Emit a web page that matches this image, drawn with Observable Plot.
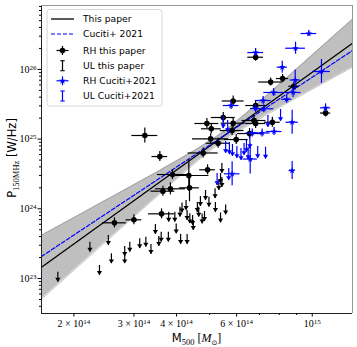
<!DOCTYPE html>
<html><head><meta charset="utf-8">
<script src="https://cdn.jsdelivr.net/npm/d3@7"></script>
<script src="https://cdn.jsdelivr.net/npm/@observablehq/plot@0.6"></script>
<style>
body{margin:0;background:#fff;}
#chart{position:relative;width:357px;height:347px;}
#chart svg [aria-label="x-axis tick label"] text,
#chart svg [aria-label="y-axis tick label"] text{font-family:"Liberation Serif",serif;font-size:10px;fill:#000;}
</style></head><body><div id="chart"></div>
<script>
// ---- data (log10 values) ----
// fitted relations (end points at the plot edges)
const fitLogM = [14.206, 15.118];
const fitThisLogP = [23.162, 26.376];
const fitCucitiLogP = [23.316, 26.271];
// confidence band of "This paper"
const bandLogM = [14.206, 14.3205, 14.438, 14.555, 14.672, 14.731, 14.790, 14.907, 15.024, 15.118];
const bandLoLogP = [22.703, 23.204, 23.716, 24.225, 24.720, 24.943, 25.131, 25.463, 25.781, 26.032];
const bandHiLogP = [23.621, 23.927, 24.241, 24.558, 24.890, 25.080, 25.305, 25.802, 26.311, 26.720];
// RH this paper
const rhThisLogM = [14.509,14.553,14.420,14.477,14.558,14.562,14.584,14.590,14.638,14.640,14.680,14.693,14.702,14.724,14.765,14.777,14.816,14.691,14.704,14.739,14.768,14.829,14.834,14.883,14.768,14.834,14.834,14.878,14.913,14.946,15.039];
const rhThisLogP = [25.052,24.750,23.799,23.842,23.928,24.253,24.287,24.492,24.478,24.301,24.801,24.560,25.004,24.941,25.123,24.994,25.080,25.224,25.148,25.310,25.228,25.267,25.224,25.242,25.547,25.482,26.175,25.819,25.869,25.759,25.374];
const rhThisErrM = [0.038,0.023,0.035,0.023,0.038,0.035,0.044,0.044,0.059,0.029,0.044,0.023,0.053,0.035,0.035,0.035,0.035,0.035,0.029,0.035,0.035,0.035,0.029,0.023,0.032,0.029,0.023,0.035,0.018,0.015,0.015];
const rhThisErrP = [0.108,0.072,0.072,0.072,0.072,0.072,0.086,0.072,0.23,0.20,0.072,0.072,0.072,0.072,0.072,0.072,0.072,0.072,0.072,0.072,0.072,0.072,0.072,0.072,0.072,0.072,0.057,0.057,0.057,0.057,0.057];
// UL this paper
const ulThisLogM = [14.254,14.348,14.376,14.402,14.411,14.450,14.450,14.465,14.494,14.512,14.527,14.540,14.550,14.557,14.578,14.579,14.597,14.601,14.614,14.633,14.612,14.618,14.630,14.633,14.641,14.649,14.651,14.663,14.667,14.672,14.677,14.687,14.684,14.697,14.715,14.716,14.731,14.746,14.726,14.735,14.735,14.731];
const ulThisLogP = [23.090,23.521,23.187,23.617,23.354,23.459,23.354,23.521,23.570,23.593,23.488,23.775,23.603,23.664,23.664,23.951,23.951,23.782,23.631,23.631,24.023,24.083,24.119,23.976,23.928,23.904,23.832,24.090,24.023,24.176,23.925,24.263,23.961,24.166,24.287,24.090,23.940,24.055,24.406,24.449,24.650,24.506];
// RH Cuciti+2021
const rhCucLogM = [14.990,14.951,14.834,14.912,14.950,15.027,14.887,14.944,14.925,14.856,14.858,14.834,14.762,15.039,14.941,14.888,14.853,14.824,14.941,14.818,14.765];
const rhCucLogP = [26.515,26.304,26.242,26.032,25.848,25.970,25.669,25.669,25.572,25.554,25.435,25.439,25.482,25.449,25.242,25.109,25.088,25.088,24.549,24.714,24.502];
const rhCucErrM = [0.023,0.029,0.023,0.015,0.015,0.026,0.029,0.023,0.015,0.023,0.029,0.015,0.023,0.015,0.018,0.023,0.023,0.018,0.009,0.021,0.023];
const rhCucErrP = [0.043,0.086,0.057,0.086,0.143,0.172,0.057,0.072,0.057,0.057,0.057,0.057,0.057,0.057,0.172,0.057,0.057,0.057,0.129,0.215,0.172];
// UL Cuciti+2021
const ulCucLogM = [14.739,14.752,14.746,14.757,14.766,14.779,14.791,14.800,14.807,14.812,14.817,14.840,14.863,14.870,14.907,14.721,14.755];
const ulCucLogP = [25.324,25.267,24.966,24.951,24.923,24.894,24.865,24.937,24.980,24.879,25.037,24.894,24.884,25.339,25.425,24.506,24.578];
// ticks
const xTickValues = [2e14, 3e14, 4e14, 6e14, 1e15];
const xTickLabels = ["2 × 10^14", "3 × 10^14", "4 × 10^14", "6 × 10^14", "10^15"];
const xMinorTicks = [5e14, 7e14, 8e14, 9e14];
const yTickValues = [1e23, 1e24, 1e25, 1e26];
const yTickLabels = ["10^23", "10^24", "10^25", "10^26"];
const yMinorTicks = [4e22,5e22,6e22,7e22,8e22,9e22,2e23,3e23,4e23,5e23,6e23,7e23,8e23,9e23,2e24,3e24,4e24,5e24,6e24,7e24,8e24,9e24,2e25,3e25,4e25,5e25,6e25,7e25,8e25,9e25,2e26,3e26,4e26,5e26,6e26,7e26,8e26];
const xDomainLog = [14.206, 15.118];
const yDomainLog = [22.498, 26.917];
const legendLabels = ["This paper", "Cuciti+ 2021", "RH this paper", "UL this paper", "RH Cuciti+2021", "UL Cuciti+2021"];

// ---- build tables ----
const p10 = v => Math.pow(10, v);
const rhRows = (lm, lp, em, ep) => lm.map((m, i) => ({
  m: p10(m), p: p10(lp[i]), m1: p10(m - em[i]), m2: p10(m + em[i]), p1: p10(lp[i] - ep[i]), p2: p10(lp[i] + ep[i])
}));
const ulRows = (lm, lp, len) => lm.map((m, i) => ({m: p10(m), p: p10(lp[i]), pEnd: p10(lp[i] - len)}));
const rhThis = rhRows(rhThisLogM, rhThisLogP, rhThisErrM, rhThisErrP);
const rhCuc = rhRows(rhCucLogM, rhCucLogP, rhCucErrM, rhCucErrP);
const ulThis = ulRows(ulThisLogM, ulThisLogP, 0.14);
const ulCuc = ulRows(ulCucLogM, ulCucLogP, 0.17);
const band = bandLogM.map((m, i) => ({m: p10(m), lo: p10(bandLoLogP[i]), hi: p10(bandHiLogP[i])}));
const fitThis = fitLogM.map((m, i) => ({m: p10(m), p: p10(fitThisLogP[i])}));
const fitCuc = fitLogM.map((m, i) => ({m: p10(m), p: p10(fitCucitiLogP[i])}));
const xMap = new Map(xTickValues.map((v, i) => [v, xTickLabels[i]]));
const yMap = new Map(yTickValues.map((v, i) => [v, yTickLabels[i]]));
const X0 = p10(xDomainLog[0]), X1 = p10(xDomainLog[1]);
const Y0 = p10(yDomainLog[0]), Y1 = p10(yDomainLog[1]);

const downTri = {draw(ctx) { ctx.moveTo(-2.6, -4.2); ctx.lineTo(2.6, -4.2); ctx.lineTo(0, 0); ctx.closePath(); }};

const plot = Plot.plot({
  width: 357, height: 347,
  marginLeft: 41, marginRight: 5, marginTop: 5, marginBottom: 34,
  style: {background: "white", fontFamily: "DejaVu Sans", overflow: "visible"},
  x: {type: "log", domain: [X0, X1]},
  y: {type: "log", domain: [Y0, Y1]},
  marks: [
    Plot.areaY(band, {x: "m", y1: "lo", y2: "hi", fill: "#808080", fillOpacity: 0.5, curve: "catmull-rom"}),
    Plot.line(band, {x: "m", y: "lo", stroke: "#808080", strokeOpacity: 0.6, strokeWidth: 0.8, curve: "catmull-rom"}),
    Plot.line(band, {x: "m", y: "hi", stroke: "#808080", strokeOpacity: 0.6, strokeWidth: 0.8, curve: "catmull-rom"}),
    Plot.line(fitThis, {x: "m", y: "p", stroke: "black", strokeWidth: 1.3}),
    Plot.line(fitCuc, {x: "m", y: "p", stroke: "blue", strokeWidth: 1.2, strokeDasharray: "4,2"}),
    // RH this paper
    Plot.ruleY(rhThis, {y: "p", x1: "m1", x2: "m2", stroke: "black", strokeWidth: 1.2}),
    Plot.ruleX(rhThis, {x: "m", y1: "p1", y2: "p2", stroke: "black", strokeWidth: 1.2}),
    Plot.dot(rhThis, {x: "m", y: "p", r: 2.8, fill: "black", stroke: "none"}),
    // UL this paper
    Plot.ruleX(ulThis, {x: "m", y1: "p", y2: "pEnd", stroke: "black", strokeWidth: 1.2}),
    Plot.dot(ulThis, {x: "m", y: "pEnd", symbol: downTri, fill: "black", stroke: "none"}),
    // RH Cuciti
    Plot.ruleY(rhCuc, {y: "p", x1: "m1", x2: "m2", stroke: "blue", strokeWidth: 1.2}),
    Plot.ruleX(rhCuc, {x: "m", y1: "p1", y2: "p2", stroke: "blue", strokeWidth: 1.2}),
    Plot.dot(rhCuc, {x: "m", y: "p", symbol: "star", r: 2.1, fill: "blue", stroke: "none"}),
    // UL Cuciti
    Plot.ruleX(ulCuc, {x: "m", y1: "p", y2: "pEnd", stroke: "blue", strokeWidth: 1.2}),
    Plot.dot(ulCuc, {x: "m", y: "pEnd", symbol: downTri, fill: "blue", stroke: "none"}),
    // frame
    Plot.ruleX([X0], {stroke: "#222", strokeWidth: 1}),
    Plot.ruleY([Y0], {stroke: "#222", strokeWidth: 1}),
    Plot.ruleX([X1], {stroke: "#999", strokeWidth: 1}),
    Plot.ruleY([Y1], {stroke: "#999", strokeWidth: 1}),
    // axes
    Plot.axisX({ticks: xTickValues, tickFormat: d => xMap.get(d), tickSize: 3.5, tickPadding: 2.5, label: null}),
    Plot.axisX({ticks: xMinorTicks, tickFormat: () => "", tickSize: 2, label: null}),
    Plot.axisY({ticks: yTickValues, tickFormat: d => yMap.get(d), tickSize: 3.5, tickPadding: 1.5, label: null}),
    Plot.axisY({ticks: yMinorTicks, tickFormat: () => "", tickSize: 2, label: null})
  ]
});
document.getElementById("chart").appendChild(plot);

// superscripts on tick labels
const svg = d3.select(plot);
svg.selectAll('[aria-label="x-axis tick label"] text, [aria-label="y-axis tick label"] text').each(function() {
  const s = this.textContent, i = s.indexOf("^");
  if (i < 0) return;
  const t = d3.select(this);
  t.text(null);
  t.append("tspan").text(s.slice(0, i));
  t.append("tspan").attr("dy", "-0.42em").attr("font-size", "7px").text(s.slice(i + 1));
});

// axis titles
const yt = svg.append("text").attr("transform", "translate(16,158) rotate(-90)").attr("text-anchor", "middle").attr("fill", "#000");
yt.append("tspan").attr("font-family", "DejaVu Sans").attr("font-size", 11.5).text("P");
yt.append("tspan").attr("font-family", "Liberation Serif").attr("font-size", 8.5).attr("dy", 2.5).text("150MHz");
yt.append("tspan").attr("font-family", "DejaVu Sans").attr("font-size", 11.5).attr("dy", -2.5).text(" [W/Hz]");

const xt = svg.append("text").attr("x", 196.5).attr("y", 342).attr("text-anchor", "middle").attr("fill", "#000");
xt.append("tspan").attr("font-family", "DejaVu Sans").attr("font-size", 11.5).text("M");
xt.append("tspan").attr("font-family", "Liberation Serif").attr("font-size", 8.5).attr("dy", 2.5).text("500");
xt.append("tspan").attr("font-family", "Liberation Serif").attr("font-size", 12).attr("dy", -2.5).text(" [");
xt.append("tspan").attr("font-family", "Liberation Serif").attr("font-style", "italic").attr("font-size", 12).text("M");
xt.append("tspan").attr("font-family", "DejaVu Sans").attr("font-size", 7).attr("dy", 2.5).text("⊙");
xt.append("tspan").attr("font-family", "Liberation Serif").attr("font-size", 12).attr("dy", -2.5).text("]");

// legend
const lg = svg.append("g").attr("text-anchor", "start");
lg.append("rect").attr("x", 47).attr("y", 9.5).attr("width", 115).attr("height", 96.5).attr("rx", 2.5)
  .attr("fill", "white").attr("fill-opacity", 0.85).attr("stroke", "#cccccc").attr("stroke-width", 0.8);
const rowsY = [19, 34, 50.5, 65.7, 80.8, 96];
lg.append("line").attr("x1", 51).attr("x2", 74).attr("y1", rowsY[0]).attr("y2", rowsY[0]).attr("stroke", "black").attr("stroke-width", 1.3);
lg.append("line").attr("x1", 51).attr("x2", 74).attr("y1", rowsY[1]).attr("y2", rowsY[1]).attr("stroke", "blue").attr("stroke-width", 1.2).attr("stroke-dasharray", "4,2");
function crossHandle(y, color, star) {
  lg.append("line").attr("x1", 56.5).attr("x2", 68.5).attr("y1", y).attr("y2", y).attr("stroke", color).attr("stroke-width", 1.2);
  lg.append("line").attr("x1", 62.5).attr("x2", 62.5).attr("y1", y - 4.5).attr("y2", y + 4.5).attr("stroke", color).attr("stroke-width", 1.2);
  if (star) lg.append("path").attr("d", d3.symbol(d3.symbolStar, 16)()).attr("transform", `translate(62.5,${y})`).attr("fill", color);
  else lg.append("circle").attr("cx", 62.5).attr("cy", y).attr("r", 2.8).attr("fill", color);
}
function capHandle(y, color) {
  lg.append("line").attr("x1", 62.5).attr("x2", 62.5).attr("y1", y - 5).attr("y2", y + 5).attr("stroke", color).attr("stroke-width", 1.2);
  lg.append("line").attr("x1", 60.3).attr("x2", 64.7).attr("y1", y - 5).attr("y2", y - 5).attr("stroke", color).attr("stroke-width", 1.1);
  lg.append("line").attr("x1", 60.3).attr("x2", 64.7).attr("y1", y + 5).attr("y2", y + 5).attr("stroke", color).attr("stroke-width", 1.1);
}
crossHandle(rowsY[2], "black", false);
capHandle(rowsY[3], "black");
crossHandle(rowsY[4], "blue", true);
capHandle(rowsY[5], "blue");
legendLabels.forEach((s, i) => {
  lg.append("text").attr("x", 83).attr("y", rowsY[i] + 3.3).attr("text-anchor", "start").attr("font-family", "DejaVu Sans").attr("font-size", 9.2).attr("fill", "#000").text(s);
});
</script></body></html>
